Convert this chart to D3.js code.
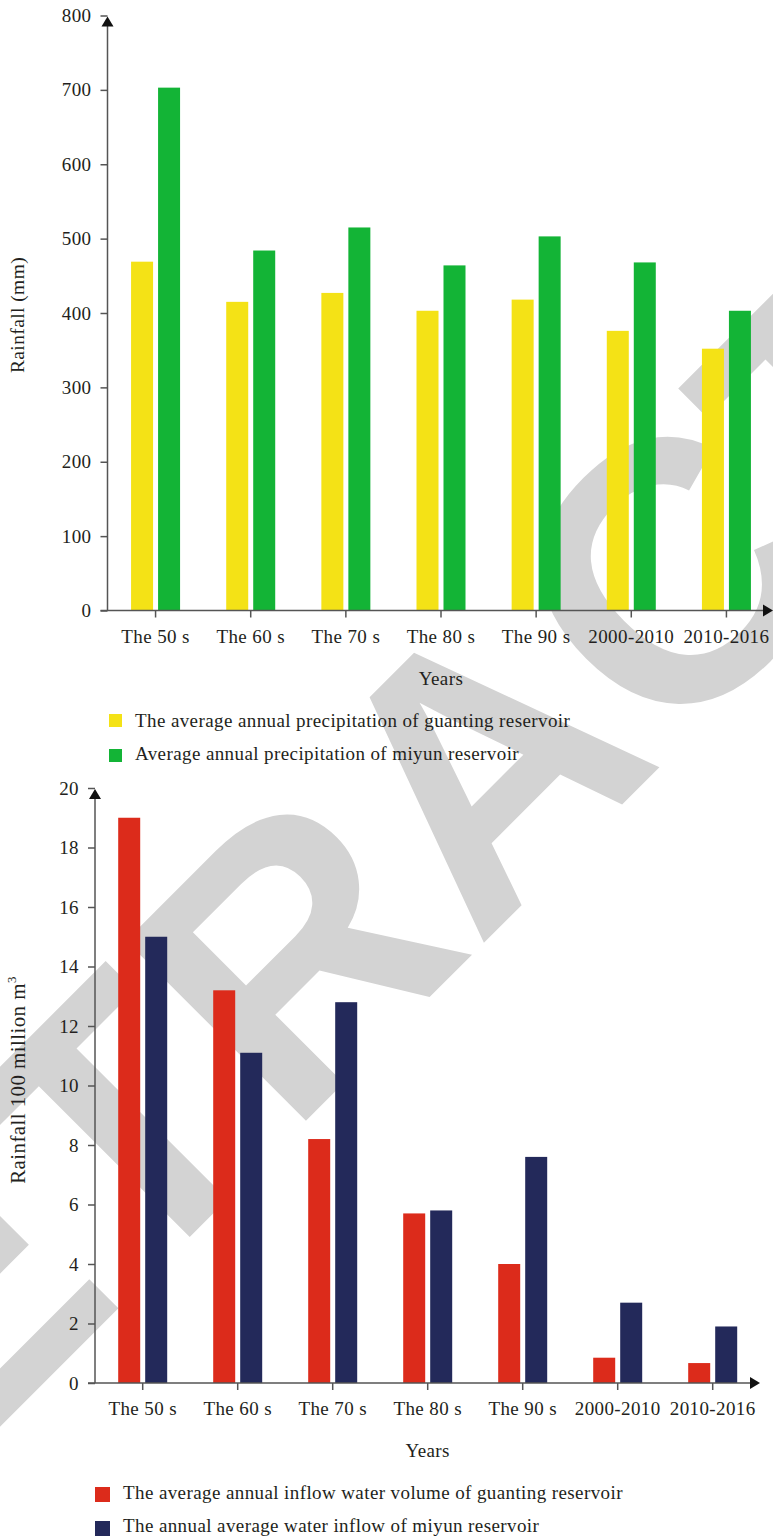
<!DOCTYPE html>
<html>
<head>
<meta charset="utf-8">
<script src="https://cdn.jsdelivr.net/npm/d3@7/dist/d3.min.js"></script>
<style>
body { margin: 0; background: #fff; }
svg { display: block; }
</style>
</head>
<body>
<script>
// data
const years = ['The 50 s', 'The 60 s', 'The 70 s', 'The 80 s', 'The 90 s', '2000-2010', '2010-2016'];
const guantingRain = [469, 415, 427, 403, 418, 376, 352];
const miyunRain = [703, 484, 515, 464, 503, 468, 403];
const guantingInflow = [19.0, 13.2, 8.2, 5.7, 4.0, 0.85, 0.67];
const miyunInflow = [15.0, 11.1, 12.8, 5.8, 7.6, 2.7, 1.9];
const rainTicks = [0, 100, 200, 300, 400, 500, 600, 700, 800];
const inflowTicks = [0, 2, 4, 6, 8, 10, 12, 14, 16, 18, 20];
const rainLegend = ['The average annual precipitation of guanting reservoir', 'Average annual precipitation of miyun reservoir'];
const inflowLegend = ['The average annual inflow water volume of guanting reservoir', 'The annual average water inflow of miyun reservoir'];

const FONT = '"Liberation Serif", "DejaVu Serif", serif';
const TEXT_COLOR = '#231f20';
const AXIS_COLOR = '#555';
const SPACING = 0.4;

const CHART_RAIN = {
    x_range: [108, 774],
    y_range: [610.5, 15.5],
    y_max: 800,
    axis_x: 107.5,
    arrow_end_x: 773,
    tick_len: 7,
    colors: ['#f4e216', '#13b436'],
    series: [guantingRain, miyunRain],
    ticks: rainTicks,
    cat_label_y: 643,
    years_y: 685,
    legend: rainLegend,
    legend_box: 13,
    legend_x: 109,
    legend_text_x: 135,
    legend_y: [714, 749],
    legend_base: [726.5, 760],
    title_y: 315
};

const CHART_FLOW = {
    x_range: [95.2, 760.2],
    y_range: [1383, 788],
    y_max: 20,
    axis_x: 95,
    arrow_end_x: 760,
    tick_len: 7,
    colors: ['#dc2b1b', '#23295a'],
    series: [guantingInflow, miyunInflow],
    ticks: inflowTicks,
    cat_label_y: 1415,
    years_y: 1457,
    legend: inflowLegend,
    legend_box: 15,
    legend_x: 95,
    legend_text_x: 123,
    legend_y: [1487, 1521],
    legend_base: [1499, 1532],
    title_y: 1080
};

const svg = d3.select('body').append('svg')
    .attr('width', 773)
    .attr('height', 1537)
    .attr('font-family', FONT)
    .attr('letter-spacing', SPACING);

// retraction stamp, sits behind everything
svg.append('text')
    .text('RETRACTED')
    .attr('transform', 'translate(481,764) rotate(-45)')
    .attr('text-anchor', 'middle')
    .attr('dominant-baseline', 'central')
    .attr('font-family', '"Liberation Sans", "DejaVu Sans", sans-serif')
    .attr('font-weight', 'bold')
    .attr('letter-spacing', 0)
    .attr('font-size', 370)
    .attr('fill', '#d3d3d3');

function draw_chart(cfg) {
    const g = svg.append('g');
    const xScale = d3.scaleBand().domain(years).range(cfg.x_range);
    const xSub = d3.scaleBand().domain([0, 1]).range([-24.5, 24.5]).paddingInner(0.185);
    const yScale = d3.scaleLinear().domain([0, cfg.y_max]).range(cfg.y_range);
    const mid = (d) => xScale(d) + xScale.bandwidth() / 2;

    // bars
    cfg.series.forEach((vals, s) => {
        g.selectAll('.bar' + s)
            .data(vals)
            .enter()
            .append('rect')
            .attr('x', (d, i) => mid(years[i]) + xSub(s))
            .attr('y', (d) => yScale(d))
            .attr('width', xSub.bandwidth())
            .attr('height', (d) => yScale(0) - yScale(d))
            .attr('fill', cfg.colors[s]);
    });

    // y axis
    const yAxis = g.append('g')
        .attr('transform', `translate(${cfg.axis_x},0)`)
        .call(d3.axisLeft(yScale).tickValues(cfg.ticks).tickSize(cfg.tick_len).tickPadding(9));
    yAxis.select('.domain').remove();
    yAxis.selectAll('line').attr('stroke', AXIS_COLOR).attr('stroke-width', 1.5);
    yAxis.selectAll('text').attr('font-family', FONT).attr('font-size', 19).attr('fill', TEXT_COLOR);

    // x axis ticks + labels
    const xAxis = g.append('g')
        .attr('transform', `translate(0,${yScale(0)})`)
        .call(d3.axisBottom(xScale).tickSize(cfg.tick_len).tickSizeOuter(0).tickPadding(0));
    xAxis.select('.domain').remove();
    xAxis.selectAll('line').attr('stroke', AXIS_COLOR).attr('stroke-width', 1.5);
    xAxis.selectAll('text')
        .attr('y', cfg.cat_label_y - yScale(0))
        .attr('dy', null)
        .attr('font-family', FONT).attr('font-size', 19).attr('fill', TEXT_COLOR);

    // axis lines with arrows
    const top = yScale(cfg.y_max);
    g.append('line')
        .attr('x1', cfg.axis_x).attr('x2', cfg.axis_x)
        .attr('y1', yScale(0)).attr('y2', top + 8)
        .attr('stroke', AXIS_COLOR).attr('stroke-width', 1.5);
    g.append('path')
        .attr('d', `M${cfg.axis_x},${top + 1}L${cfg.axis_x - 6},${top + 11}L${cfg.axis_x + 6},${top + 11}Z`)
        .attr('fill', '#111');
    g.append('line')
        .attr('x1', cfg.axis_x - cfg.tick_len).attr('x2', cfg.arrow_end_x - 8)
        .attr('y1', yScale(0)).attr('y2', yScale(0))
        .attr('stroke', AXIS_COLOR).attr('stroke-width', 1.5);
    g.append('path')
        .attr('d', `M${cfg.arrow_end_x},${yScale(0)}L${cfg.arrow_end_x - 10},${yScale(0) - 6}L${cfg.arrow_end_x - 10},${yScale(0) + 6}Z`)
        .attr('fill', '#111');

    // x axis title
    g.append('text')
        .text('Years')
        .attr('x', (cfg.x_range[0] + cfg.x_range[1]) / 2)
        .attr('y', cfg.years_y)
        .attr('text-anchor', 'middle')
        .attr('font-size', 19)
        .attr('fill', TEXT_COLOR);

    // legend
    cfg.legend.forEach((label, i) => {
        g.append('rect')
            .attr('x', cfg.legend_x).attr('y', cfg.legend_y[i])
            .attr('width', cfg.legend_box).attr('height', cfg.legend_box)
            .attr('fill', cfg.colors[i]);
        g.append('text')
            .text(label)
            .attr('x', cfg.legend_text_x)
            .attr('y', cfg.legend_base[i])
            .attr('font-size', 19)
            .attr('fill', TEXT_COLOR);
    });
    return g;
}

const g1 = draw_chart(CHART_RAIN);
g1.append('text')
    .text('Rainfall (mm)')
    .attr('transform', `translate(24,${CHART_RAIN.title_y}) rotate(-90)`)
    .attr('text-anchor', 'middle')
    .attr('font-size', 19.5)
    .attr('fill', TEXT_COLOR);

const g2 = draw_chart(CHART_FLOW);
const t2 = g2.append('text')
    .attr('transform', `translate(25,${CHART_FLOW.title_y}) rotate(-90)`)
    .attr('text-anchor', 'middle')
    .attr('font-size', 21)
    .attr('fill', TEXT_COLOR);
t2.append('tspan').text('Rainfall 100 million m');
t2.append('tspan').text('3').attr('font-size', 13).attr('dy', -9);
</script>
</body>
</html>
